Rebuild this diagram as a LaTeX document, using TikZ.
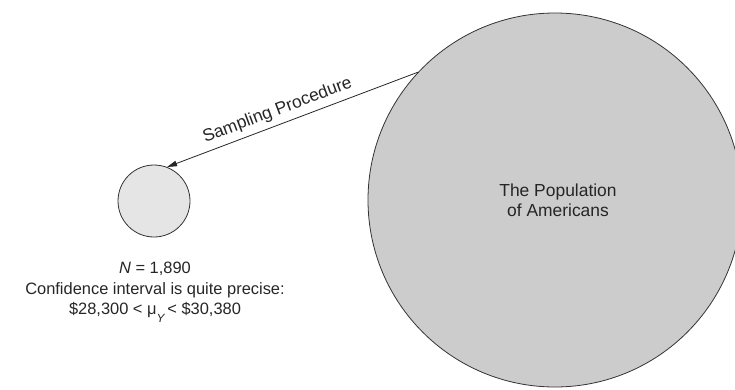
\documentclass[tikz,border=0pt]{standalone}
\usepackage{fontspec}
\setmainfont{Liberation Sans}
\usetikzlibrary{arrows.meta}
\begin{document}
\begin{tikzpicture}[x=1bp,y=1bp,
  every node/.style={font=\fontsize{16.5}{20}\selectfont, text=black!85},
  popcircle/.style={circle, draw=black!80, line width=0.8bp, fill=black!20, minimum size=374bp, inner sep=0pt},
  samplecircle/.style={circle, draw=black!80, line width=0.8bp, fill=black!10, minimum size=72bp, inner sep=0pt},
  arrowline/.style={draw=black!85, line width=0.8bp, -{Triangle[length=10bp,width=5.5bp]}}]
\useasboundingbox (0,0) rectangle (735,389);
\begin{scope}
\clip (0,0) rectangle (735,389);
\node[popcircle] (pop) at (555,189) {};
\end{scope}
\node[align=center, font=\fontsize{17.5}{20}\selectfont] (poptext) at (558,189) {The Population\\of Americans};
\node[samplecircle] (sample) at (154,188) {};
\draw[arrowline] (pop.137.6) -- (sample.69)
  node[pos=0.54, sloped, above=2bp, font=\fontsize{17.5}{20}\selectfont] (samplab) {Sampling Procedure};
\node[align=center, font=\fontsize{16.5}{21}\selectfont] (stats) at (155,97)
  {\textit{N} = 1,890\\Confidence interval is quite precise:\\\$28,300 < μ\raisebox{-0.45em}{\fontsize{12}{12}\selectfont\itshape Y}\,< \$30,380};
\end{tikzpicture}
\end{document}
